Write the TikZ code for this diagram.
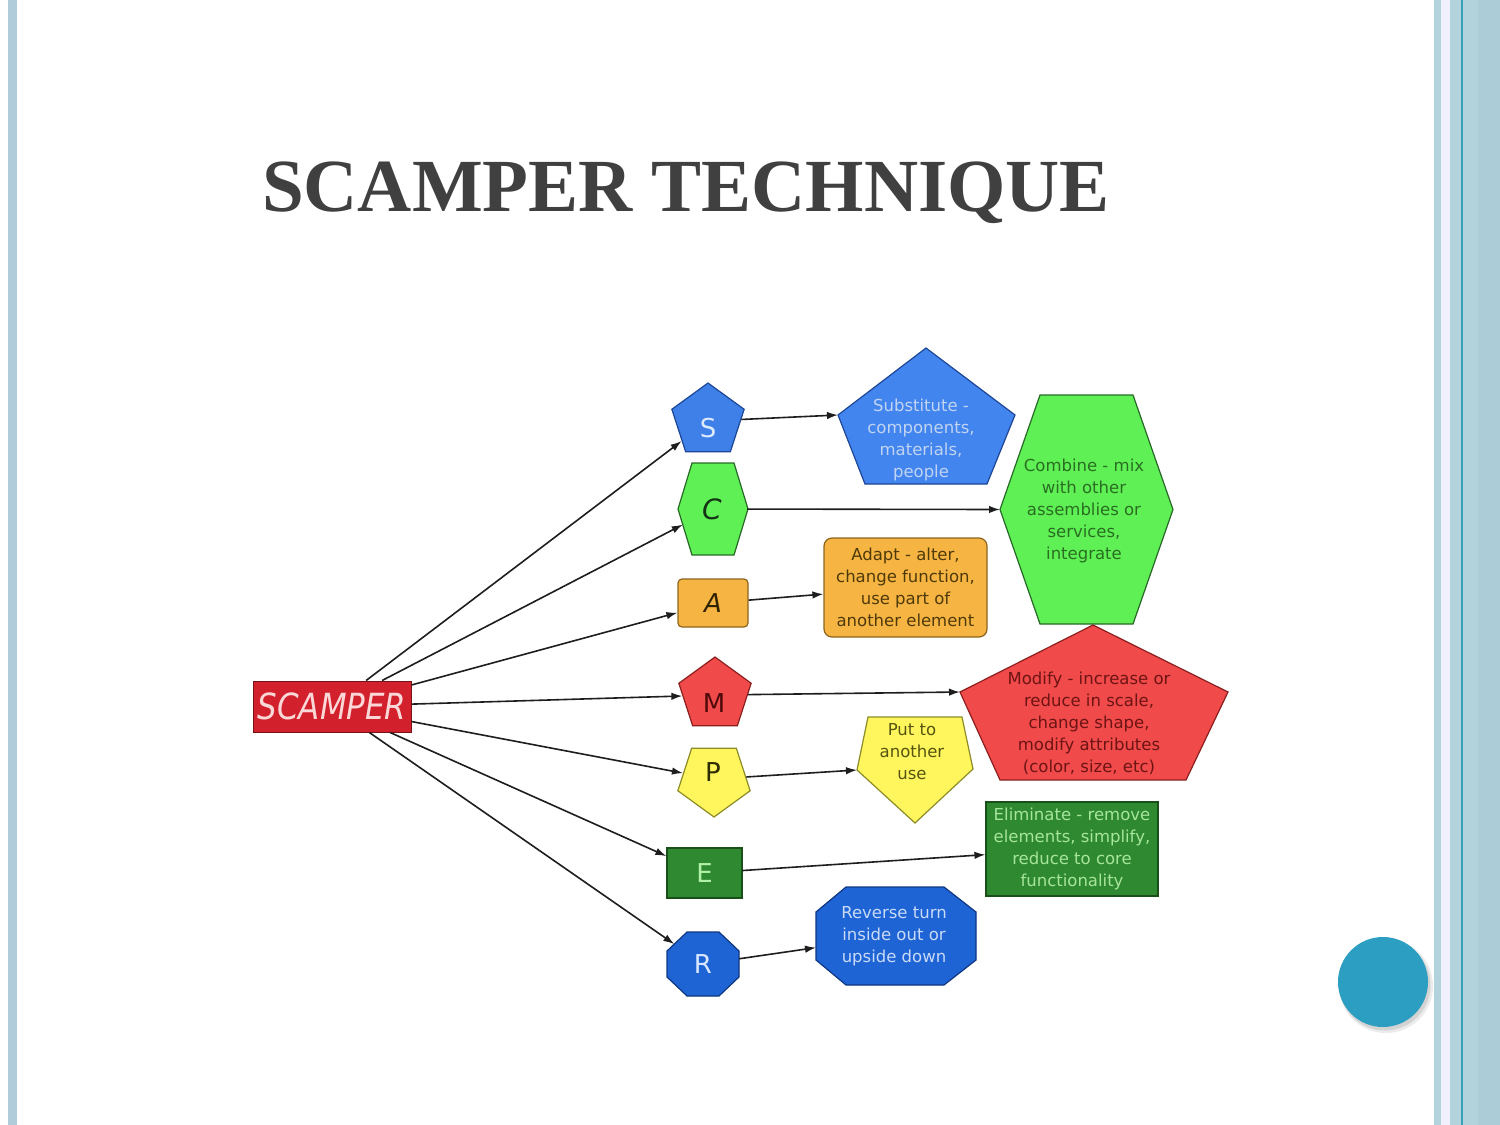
\documentclass[tikz,border=0pt]{standalone}
\usepackage{fontspec}
\setmainfont{Liberation Serif}
\newfontfamily\dvs{DejaVu Sans}
\usetikzlibrary{shapes.geometric,arrows.meta}
\definecolor{bordL}{RGB}{176,204,218}
\definecolor{bordR}{RGB}{178,210,220}
\definecolor{bordR2}{RGB}{172,205,216}
\definecolor{tealln}{RGB}{58,160,184}
\definecolor{titlegray}{RGB}{64,64,64}
\definecolor{rSc}{RGB}{210,32,44}
\definecolor{rScd}{RGB}{120,20,25}
\definecolor{scTxt}{RGB}{252,215,215}
\definecolor{bS}{RGB}{62,128,232}
\definecolor{bSub}{RGB}{66,133,238}
\definecolor{bSd}{RGB}{30,70,150}
\definecolor{gC}{RGB}{94,240,84}
\definecolor{gCd}{RGB}{40,105,40}
\definecolor{oA}{RGB}{246,181,66}
\definecolor{oAd}{RGB}{140,100,30}
\definecolor{rM}{RGB}{240,74,74}
\definecolor{rMd}{RGB}{140,30,30}
\definecolor{yP}{RGB}{255,245,92}
\definecolor{yPd}{RGB}{140,140,40}
\definecolor{gE}{RGB}{47,137,48}
\definecolor{gEd}{RGB}{25,80,25}
\definecolor{bR}{RGB}{30,100,212}
\definecolor{bRd}{RGB}{15,55,130}
\definecolor{circ}{RGB}{44,158,193}
\definecolor{arrc}{RGB}{30,30,30}
\tikzset{
  arr/.style={draw=arrc, line width=1.6pt, -{Latex[length=11pt,width=7.5pt]}},
  txt/.style={font=\dvs\fontsize{16.5}{22}\selectfont, align=center, inner sep=0pt},
  letter/.style={font=\dvs\fontsize{26}{30}\selectfont, inner sep=0pt},
  shp/.style={line width=1.2pt},
  pent/.style={regular polygon, regular polygon sides=5, minimum size=76pt, inner sep=0pt, shp},
  hold/.style={rectangle, inner sep=0pt, draw=none, fill=none},
}
\begin{document}
\begin{tikzpicture}[x=1pt,y=-1pt]
\fill[white] (0,0) rectangle (1500,1125);
\useasboundingbox (0,0) rectangle (1500,1125);
% page borders
\fill[bordL] (8,0) rectangle (16.5,1125);
\fill[bordR] (1434,0) rectangle (1500,1125);
\fill[white!94!blue] (1441,0) rectangle (1450,1125);
\fill[bordR2] (1478,0) rectangle (1500,1125);
\draw[tealln, line width=1.5pt] (1462,0) -- (1462,1125);
% title
\node[font=\fontsize{75}{80}\selectfont\bfseries, text=titlegray, anchor=base] (title) at (686,211) {SCAMPER TECHNIQUE};
% root
\node[draw=rScd, fill=rSc, line width=1pt, minimum width=158pt, minimum height=51pt, inner sep=0pt,
      text=scTxt, font=\dvs\itshape\fontsize{30}{32}\selectfont] (scamper) at (332,706.5) {\scalebox{1.03}[1.2]{SCAMPER}};
% ---- letter nodes ----
% S
\node[pent, fill=bS, draw=bSd] (S) at (708,421) {};
\node[letter, text={rgb,255:red,221;green,233;blue,255}] (Sl) at (708,428) {S};
% C (hexagon)
\filldraw[fill=gC, draw=gCd, shp] (678,509) -- (692,463) -- (734,463) -- (748,509) -- (734,555) -- (692,555) -- cycle;
\node[hold, minimum width=70pt, minimum height=92pt, letter, font=\dvs\itshape\fontsize{28}{30}\selectfont,
      text={rgb,255:red,20;green,50;blue,20}] (C) at (712,509) {C};
\coordinate (Cin) at (682.8,524.6);
% A
\node[rectangle, rounded corners=4pt, minimum width=70pt, minimum height=48pt, inner sep=0pt, fill=oA, draw=oAd, shp,
      letter, font=\dvs\itshape\fontsize{26}{30}\selectfont, text={rgb,255:red,50;green,35;blue,0}] (A) at (713,603) {A};
% M
\node[pent, fill=rM, draw=rMd] (M) at (715,695) {};
\node[letter, text={rgb,255:red,80;green,10;blue,10}] (Ml) at (714,703) {M};
% P
\node[pent, shape border rotate=180, fill=yP, draw=yPd] (P) at (714,779) {};
\node[letter, text={rgb,255:red,45;green,45;blue,0}] (Pl) at (713,772) {P};
% E
\node[rectangle, minimum width=75pt, minimum height=50pt, inner sep=0pt, fill=gE, draw=gEd, shp,
      letter, text={rgb,255:red,176;green,240;blue,168}] (E) at (704.5,873) {E};
% R (octagon)
\filldraw[fill=bR, draw=bRd, shp] (667,951) -- (687,932) -- (719,932) -- (739,951) -- (739,977) -- (719,996) -- (687,996) -- (667,977) -- cycle;
\node[hold, minimum width=72pt, minimum height=64pt, letter, text={rgb,255:red,216;green,230;blue,255}] (R) at (703,964) {R};
\coordinate (Rin) at (674.3,944.1);
% ---- description shapes ----
\filldraw[fill=bSub, draw=bSd, shp] (926,348) -- (1015,415) -- (987,484) -- (865,484) -- (838,415) -- cycle;
\coordinate (Subw) at (838,415);
\node[txt, text={rgb,255:red,192;green,211;blue,242}] (Sub) at (921,440) {Substitute -\\components,\\materials,\\people};
\filldraw[fill=gC, draw=gCd, shp] (1000,509.5) -- (1040,395) -- (1133,395) -- (1173,509.5) -- (1133,624) -- (1040,624) -- cycle;
\coordinate (Combw) at (1000,509.5);
\node[txt, text={rgb,255:red,42;green,110;blue,34}] (Comb) at (1084,511) {Combine - mix\\with other\\assemblies or\\services,\\integrate};
\node[rectangle, rounded corners=8pt, minimum width=163pt, minimum height=99pt, fill=oA, draw=oAd, shp,
      txt, text={rgb,255:red,79;green,58;blue,10}] (Adapt) at (905.5,587.5) {Adapt - alter,\\change function,\\use part of\\another element};
\filldraw[fill=rM, draw=rMd, shp] (1093,625) -- (1228,692) -- (1186,780) -- (1000,780) -- (960,692) -- cycle;
\coordinate (Modw) at (960,692);
\node[txt, text={rgb,255:red,110;green,20;blue,20}] (Mod) at (1089,723) {Modify - increase or\\reduce in scale,\\change shape,\\modify attributes\\(color, size, etc)};
\filldraw[fill=yP, draw=yPd, shp] (868,717) -- (962,717) -- (973,769) -- (915,823) -- (857,770) -- cycle;
\coordinate (Putw) at (857,770);
\node[txt, text={rgb,255:red,85;green,85;blue,15}] (Put) at (912,752) {Put to\\another\\use};
\node[rectangle, minimum width=172pt, minimum height=94pt, fill=gE, draw=gEd, shp,
      txt, text={rgb,255:red,166;green,229;blue,156}] (Elim) at (1072,849) {Eliminate - remove\\elements,\ simplify,\\reduce to core\\functionality};
\filldraw[fill=bR, draw=bRd, shp] (816,912) -- (846,887) -- (944,887) -- (976,912) -- (976,960) -- (944,985) -- (846,985) -- (816,960) -- cycle;
\coordinate (Revin) at (816,947.6);
\node[txt, text={rgb,255:red,201;green,218;blue,248}] (Rev) at (894,936) {Reverse turn\\inside out or\\upside down};
% ---- connectors ----
\draw[arr] (scamper) -- (S);
\draw[arr] (scamper) -- (Cin);
\draw[arr] (scamper) -- (A);
\draw[arr] (scamper) -- (M);
\draw[arr] (scamper) -- (P);
\draw[arr] (scamper) -- (E);
\draw[arr] (scamper) -- (Rin);
\draw[arr] (S) -- (Subw);
\draw[arr] (C) -- (Combw);
\draw[arr] (A) -- (Adapt);
\draw[arr] (M) -- (Modw);
\draw[arr] (P) -- (Putw);
\draw[arr] (E) -- (Elim);
\draw[arr] (R) -- (Revin);
% round button
\fill[black, opacity=0.08] (1386,986) circle (47);
\fill[black, opacity=0.10] (1385,985) circle (45.5);
\node[circle, fill=circ, minimum size=90pt, inner sep=0pt] (dot) at (1383,982) {};
\end{tikzpicture}
\end{document}
